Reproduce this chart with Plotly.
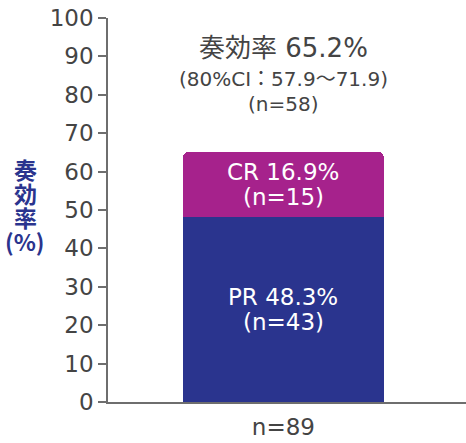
import plotly.graph_objects as go

categories = ["n=89"]
pr_values = [48.3]
cr_values = [16.9]
pr_lines = ["PR 48.3%", "(n=43)"]
cr_lines = ["CR 16.9%", "(n=15)"]
y_ticks = list(range(0, 101, 10))
total_label = "奏効率 65.2%"
ci_label = "(80%CI：57.9～71.9)"
n_label = "(n=58)"
y_title_parts = ["奏", "効", "率", "(%)"]

CJK = "Noto Sans CJK JP"
LAT = "DejaVu Sans, Noto Sans CJK JP"
GRAY = "#444444"
NAVY = "#2A348E"
MAG = "#A6228C"
AXC = "#6E6E6E"

xpos = [0.49]
W, H = 466, 443
L, R, T, B = 108, 0, 18, 41
PH = H - T - B


def ypix(py):
    return (H - B - py) / PH


fig = go.Figure()
fig.add_trace(go.Bar(x=xpos, y=pr_values, width=0.561, marker=dict(color=NAVY, line=dict(width=0)),
                     hoverinfo="skip"))
fig.add_trace(go.Bar(x=xpos, y=cr_values, width=0.561, marker=dict(color=MAG, line=dict(width=0)),
                     hoverinfo="skip"))

fig.update_layout(
    barmode="stack", barcornerradius=6,
    width=W, height=H,
    margin=dict(l=L, r=R, t=T, b=B),
    plot_bgcolor="white", paper_bgcolor="white",
    showlegend=False,
    font=dict(family=LAT, color=GRAY),
)
fig.update_xaxes(range=[0, 1], tickvals=xpos, ticktext=categories, showline=True, linecolor=AXC,
                 linewidth=1.5, ticks="", tickfont=dict(size=23, color=GRAY, family=LAT), showgrid=False,
                 zeroline=False, automargin=False, ticklabelstandoff=4)
fig.update_yaxes(range=[0, 100], tickvals=y_ticks, showline=True, linecolor=AXC, linewidth=1.5,
                 ticks="outside", ticklen=8, tickcolor=AXC, tickwidth=1.5,
                 tickfont=dict(size=23, color=GRAY, family=LAT), showgrid=False, zeroline=False,
                 automargin=False)

# bar segment labels, centred on each segment
seg_centres = [pr_values[0] / 2, pr_values[0] + cr_values[0] / 2]
for centre, lines in zip(seg_centres, [pr_lines, cr_lines]):
    for j, line in enumerate(lines):
        fig.add_annotation(x=xpos[0], y=centre, xref="x", yref="y", text=line, showarrow=False,
                           yshift=12.5 - 25 * j, yanchor="middle",
                           font=dict(size=23, color="white", family=LAT))

fig.add_annotation(x=xpos[0], xref="x", y=ypix(48), yref="y domain", text=total_label,
                   showarrow=False, font=dict(size=26, color=GRAY, family=LAT), yanchor="middle")
fig.add_annotation(x=xpos[0], xref="x", y=ypix(79), yref="y domain", text=ci_label,
                   showarrow=False, font=dict(size=20, color=GRAY, family=LAT), yanchor="middle")
fig.add_annotation(x=xpos[0], xref="x", y=ypix(104), yref="y domain", text=n_label,
                   showarrow=False, font=dict(size=20, color=GRAY, family=LAT), yanchor="middle")
for i, part in enumerate(y_title_parts):
    fig.add_annotation(x=(25 - L) / (W - L - R), xref="x domain", y=ypix(169 + 24 * i), yref="y domain",
                       text=f"<b>{part}</b>", showarrow=False, xanchor="center", yanchor="middle",
                       font=dict(size=23, color=NAVY, family=CJK))

fig.write_html("out.html", config={"displayModeBar": False},
               post_script="document.body.style.margin='0';document.body.style.overflow='hidden';")
